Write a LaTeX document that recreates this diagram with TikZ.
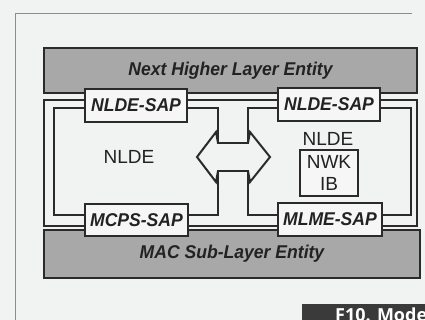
\documentclass[tikz,border=0pt]{standalone}
\usepackage{fontspec}
\setmainfont{Liberation Sans}
\newfontfamily\figfont{Open Sans}
\definecolor{bgc}{HTML}{F1F2F2}
\definecolor{linec}{HTML}{2A2A2A}
\definecolor{layerfill}{HTML}{A8A8A8}
\definecolor{sapfill}{HTML}{F6F6F6}
\definecolor{textc}{HTML}{222222}
\definecolor{framec}{HTML}{8C8C8C}
\definecolor{darkc}{HTML}{3A3A3A}
\newcommand{\sq}[1]{\scalebox{0.95}[1]{#1}}
\begin{document}
\begin{tikzpicture}[x=1pt,y=-1pt,
  wire/.style={draw=linec, line width=2pt, line join=miter},
  layerbox/.style={draw=linec, line width=2.2pt, fill=layerfill, text=textc, inner sep=0pt,
    font=\fontsize{18.5}{20}\selectfont\bfseries\itshape},
  sapbox/.style={draw=linec, line width=1.6pt, fill=sapfill, text=textc, inner sep=0pt,
    font=\fontsize{18.5}{20}\selectfont\bfseries\itshape},
  plaintext/.style={text=textc, inner sep=0pt, font=\fontsize{19}{22}\selectfont},
  ibbox/.style={draw=linec, line width=1.6pt, fill=sapfill, text=textc, inner sep=0pt, align=center,
    font=\fontsize{19}{22}\selectfont}
]
\fill[bgc] (0,0) rectangle (425,320);
\useasboundingbox (0,0) rectangle (425,320);
% outer frame
\draw[framec, line width=0.9pt] (412,13) -- (15,13) -- (15,320);
% outer rectangle line
\draw[wire] (44,100) rectangle (417,226);
% inner entity outline with arrow shaft
\draw[wire] (54,108) -- (218,108) -- (218,143) -- (248,143) -- (248,108) -- (411,108)
  -- (411,215) -- (248,215) -- (248,171) -- (218,171) -- (218,215) -- (54,215) -- cycle;
% arrow heads
\draw[wire] (218,143) -- (216,132) -- (197,157) -- (216,182) -- (218,171);
\draw[wire] (248,143) -- (250,132) -- (270,157) -- (250,182) -- (248,171);
% layer boxes
\node[layerbox, minimum width=373pt, minimum height=45pt] (nhle) at (230.5,70.5) {\sq{Next Higher Layer Entity}};
\node[layerbox, minimum width=376pt, minimum height=48pt] (mac) at (232,254) {\sq{MAC Sub-Layer Entity}};
% SAP boxes
\node[sapbox, minimum width=102pt, minimum height=33pt] (sapL) at (136,105.5) {\sq{NLDE-SAP}};
\node[sapbox, minimum width=102pt, minimum height=33pt] (sapR) at (329,104.5) {\sq{NLDE-SAP}};
\node[sapbox, minimum width=103pt, minimum height=32pt] (mcps) at (136.5,220) {\sq{MCPS-SAP}};
\node[sapbox, minimum width=104pt, minimum height=33pt] (mlme) at (330,219.5) {\sq{MLME-SAP}};
% entity labels
\node[plaintext] (nldeL) at (129,157) {NLDE};
\node[plaintext] (nldeR) at (328,138.5) {NLDE};
\node[ibbox, minimum width=58pt, minimum height=46pt] (nwkib) at (329,173) {NWK\\IB};
% figure caption tab (cut off at the picture's edge, as in the reference)
\begin{scope}
\clip (302,304) rectangle (425,320);
\fill[darkc] (302,304) rectangle (425,320);
\node[anchor=base west, text=white, inner sep=0pt, font=\figfont\fontsize{18}{20}\selectfont\bfseries] (figtab) at (335,321.5) {F10. Mode};
\end{scope}
\end{tikzpicture}
\end{document}
